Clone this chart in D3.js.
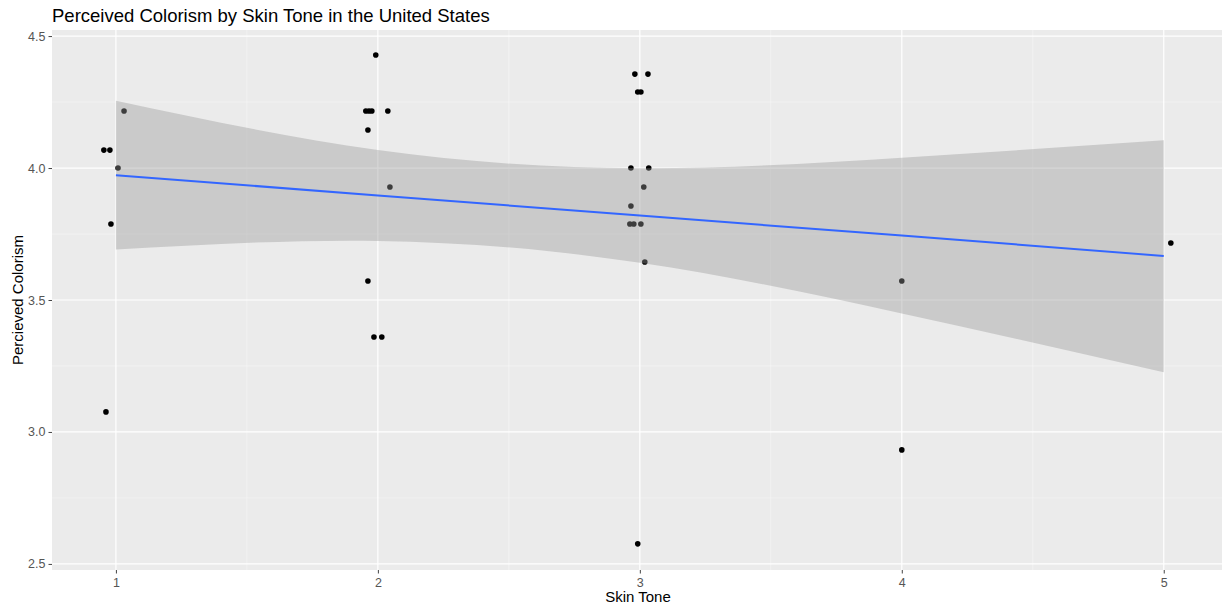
<!DOCTYPE html>
<html>
<head>
  <meta charset="UTF-8">
  <title>Perceived Colorism by Skin Tone</title>
  <script src="https://cdn.jsdelivr.net/npm/d3@7"></script>
  <style>
    body { margin: 0; background: white; font-family: "Liberation Sans", Arial, sans-serif; }
    .axis text { fill: #555; font-size: 12.5px; font-family: "Liberation Sans", Arial, sans-serif; }
    .axis line { stroke: #444; }
  </style>
</head>
<body>
  <div id="chart"></div>
  <script>
    // jittered points as they sit in the picture
    var toneX = [0.954, 0.977, 1.008, 1.031, 0.981, 0.962,
      1.992, 1.954, 1.966, 1.977, 2.038, 1.962, 2.046, 1.962, 1.985, 2.015,
      2.981, 3.031, 2.992, 3.004, 2.966, 3.034, 3.015, 2.966, 2.962, 2.977, 3.004, 3.019, 2.992,
      4.0, 4.0,
      5.027];
    var colorism = [4.068, 4.068, 4.0, 4.216, 3.788, 3.076,
      4.428, 4.216, 4.216, 4.216, 4.216, 4.144, 3.928, 3.572, 3.36, 3.36,
      4.356, 4.356, 4.288, 4.288, 4.0, 4.0, 3.928, 3.856, 3.788, 3.788, 3.788, 3.644, 2.576,
      3.572, 2.932,
      3.716];

    // lm smooth with its 95% band, read at each skin tone
    var fitX = [1, 2, 3, 4, 5];
    var fitY = [3.973, 3.896, 3.820, 3.744, 3.667];
    var fitLow = [3.691, 3.724, 3.641, 3.449, 3.226];
    var fitHigh = [4.255, 4.068, 3.999, 4.039, 4.105];

    var xTicks = [1, 2, 3, 4, 5];
    var yTicks = [2.5, 3.0, 3.5, 4.0, 4.5];
    var xMinor = [1.5, 2.5, 3.5, 4.5];
    var yMinor = [2.75, 3.25, 3.75, 4.25];

    var width = 1222, height = 604;
    var pLeft = 52, pRight = 1224, pTop = 30, pBottom = 570;

    var svg = d3.select('#chart')
      .append('svg')
      .attr('width', width)
      .attr('height', height)
      .style('display', 'block');

    var x = d3.scaleLinear().domain([0.756, 5.23]).range([pLeft, pRight]);
    var y = d3.scaleLinear().domain([2.477, 4.523]).range([pBottom, pTop]);

    svg.append('rect')
      .attr('x', pLeft).attr('y', pTop)
      .attr('width', pRight - pLeft).attr('height', pBottom - pTop)
      .attr('fill', '#ebebeb');

    var grid = svg.append('g');
    grid.selectAll('.xminor').data(xMinor).enter().append('line')
      .attr('x1', d => x(d)).attr('x2', d => x(d))
      .attr('y1', pTop).attr('y2', pBottom)
      .attr('stroke', '#f7f7f7').attr('stroke-width', 0.6);
    grid.selectAll('.yminor').data(yMinor).enter().append('line')
      .attr('x1', pLeft).attr('x2', pRight)
      .attr('y1', d => y(d)).attr('y2', d => y(d))
      .attr('stroke', '#f7f7f7').attr('stroke-width', 0.6);
    grid.selectAll('.xmajor').data(xTicks).enter().append('line')
      .attr('x1', d => x(d)).attr('x2', d => x(d))
      .attr('y1', pTop).attr('y2', pBottom)
      .attr('stroke', 'white').attr('stroke-width', 1.2);
    grid.selectAll('.ymajor').data(yTicks).enter().append('line')
      .attr('x1', pLeft).attr('x2', pRight)
      .attr('y1', d => y(d)).attr('y2', d => y(d))
      .attr('stroke', 'white').attr('stroke-width', 1.2);

    // points first, the band goes over them like in ggplot
    svg.selectAll('circle')
      .data(toneX)
      .enter()
      .append('circle')
      .attr('cx', d => x(d))
      .attr('cy', (d, i) => y(colorism[i]))
      .attr('r', 2.8)
      .attr('fill', 'black');

    var band = d3.area()
      .x(d => x(d))
      .y0((d, i) => y(fitLow[i]))
      .y1((d, i) => y(fitHigh[i]))
      .curve(d3.curveNatural);

    svg.append('path')
      .datum(fitX)
      .attr('d', band)
      .attr('fill', '#999999')
      .attr('fill-opacity', 0.4);

    var line = d3.line()
      .x(d => x(d))
      .y((d, i) => y(fitY[i]));

    svg.append('path')
      .datum(fitX)
      .attr('d', line)
      .attr('fill', 'none')
      .attr('stroke', '#3366ff')
      .attr('stroke-width', 2);

    var xAxis = svg.append('g')
      .attr('class', 'axis')
      .attr('transform', 'translate(0,' + pBottom + ')')
      .call(d3.axisBottom(x).tickValues(xTicks).tickFormat(d3.format('d')).tickSize(3.5).tickPadding(5));
    xAxis.select('.domain').remove();

    var yAxis = svg.append('g')
      .attr('class', 'axis')
      .attr('transform', 'translate(' + pLeft + ',0)')
      .call(d3.axisLeft(y).tickValues(yTicks).tickFormat(d3.format('.1f')).tickSize(3.5).tickPadding(3));
    yAxis.select('.domain').remove();

    svg.append('text')
      .attr('x', pLeft)
      .attr('y', 22)
      .attr('font-size', 18.5)
      .attr('fill', 'black')
      .text('Perceived Colorism by Skin Tone in the United States');

    svg.append('text')
      .attr('x', 638)
      .attr('y', 602)
      .attr('text-anchor', 'middle')
      .attr('font-size', 15)
      .attr('fill', 'black')
      .text('Skin Tone');

    svg.append('text')
      .attr('transform', 'translate(23,' + (pTop + pBottom) / 2 + ') rotate(-90)')
      .attr('text-anchor', 'middle')
      .attr('font-size', 15)
      .attr('fill', 'black')
      .text('Percieved Colorism');
  </script>
</body>
</html>
